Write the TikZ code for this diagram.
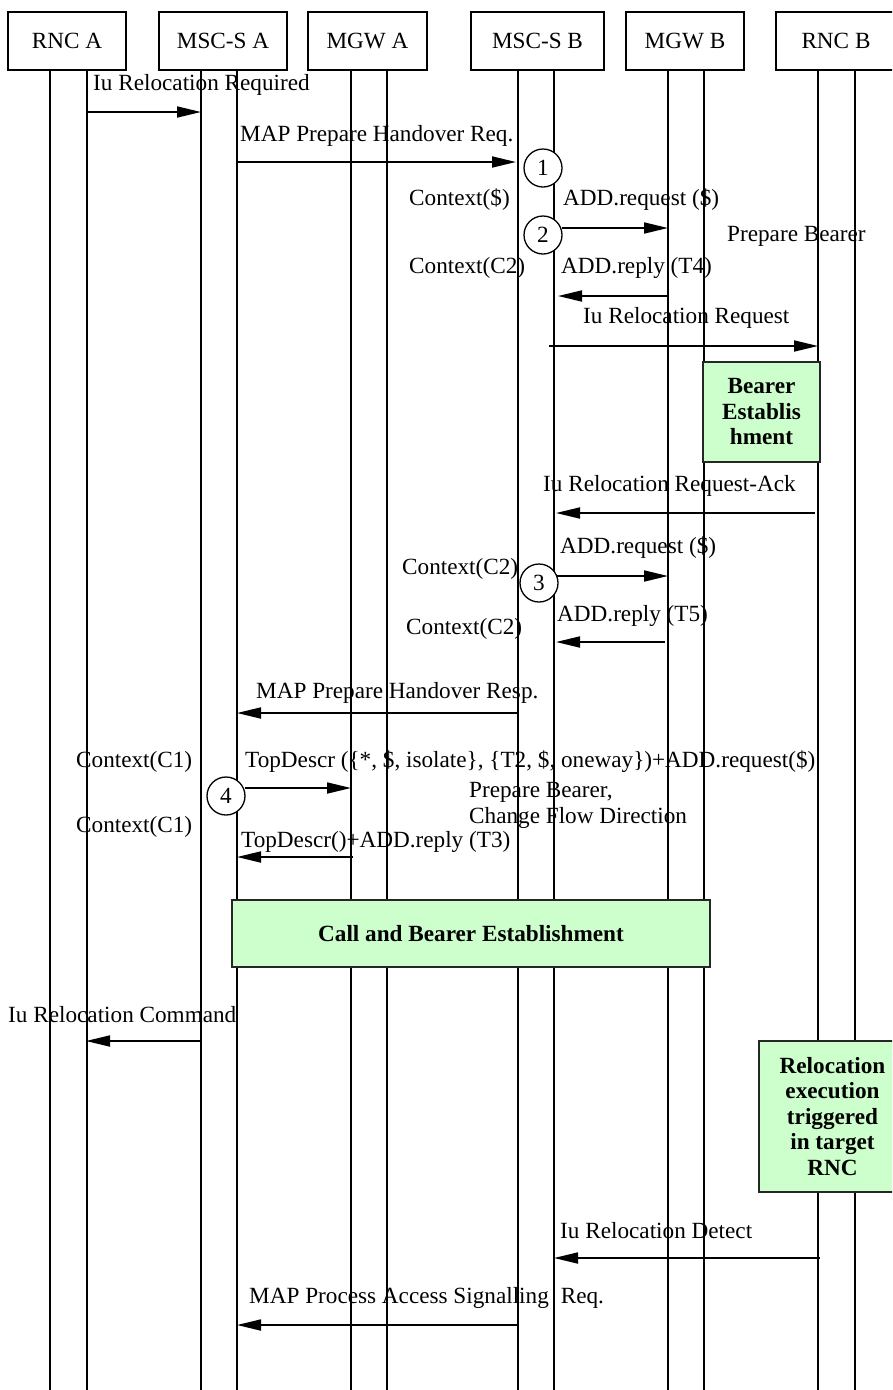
\documentclass[tikz,border=0pt]{standalone}
\usepackage{fontspec}
\setmainfont{Liberation Serif}
\usetikzlibrary{arrows.meta}
\definecolor{lgreen}{HTML}{CCFFCC}
\begin{document}
\begin{tikzpicture}[x=1pt,y=-1pt,
  every node/.style={font=\fontsize{23.2}{25.5}\selectfont, inner sep=0pt},
  entity/.style={draw, line width=1.5pt, minimum height=58pt},
  life/.style={line width=1.3pt},
  msg/.style={line width=1.8pt, -{Triangle[length=24pt,width=11pt]}},
  lbl/.style={anchor=west},
  numc/.style={circle, draw, fill=white, line width=1.3pt, minimum size=38pt},
  greenbox/.style={draw=black!85, line width=1.5pt, fill=lgreen, align=center,
    font=\fontsize{23.2}{25.5}\selectfont\bfseries}
]
\useasboundingbox (0,0) rectangle (892,1390);
\clip (0,0) rectangle (892,1390);

% entities
\node[entity, minimum width=118pt] (rncA) at (67,41) {RNC A};
\node[entity, minimum width=128pt] (mscA) at (223,41) {MSC-S A};
\node[entity, minimum width=119pt] (mgwA) at (367.5,41) {MGW A};
\node[entity, minimum width=133pt] (mscB) at (537.5,41) {MSC-S B};
\node[entity, minimum width=118pt] (mgwB) at (685,41) {MGW B};
\node[entity, minimum width=120pt] (rncB) at (836,41) {RNC B};

% lifelines
\foreach \n/\x in {rAa/50, rAb/87, sAa/201, sAb/237, gAa/351, gAb/387,
                   sBa/518, sBb/554, gBa/668, gBb/704, rBa/818, rBb/855} {
  \coordinate (\n t) at (\x,70);
  \coordinate (\n b) at (\x,1390);
  \draw[life] (\n t) -- (\n b);
}

% 1 Iu Relocation Required
\node[lbl] (t1) at (93,85) {Iu Relocation Required};
\coordinate (m1a) at (87,112); \coordinate (m1b) at (201,112);
\draw[msg] (m1a) -- (m1b);

% 2 MAP Prepare Handover Req.
\node[lbl] (t2) at (240,136) {MAP Prepare Handover Req.};
\coordinate (m2a) at (237,162); \coordinate (m2b) at (516,162);
\draw[msg] (m2a) -- (m2b);
\node[numc] (c1) at (543,168) {1};

% 3 ADD.request
\node[lbl] (t3a) at (409,200) {Context(\$)};
\node[lbl] (t3b) at (563,200) {ADD.request (\$)};
\node[numc] (c2) at (543,235) {2};
\coordinate (m3a) at (562,228); \coordinate (m3b) at (668,228);
\draw[msg] (m3a) -- (m3b);
\node[lbl] (t3c) at (727,236) {Prepare Bearer};

% 4 ADD.reply (T4)
\node[lbl] (t4a) at (409,268) {Context(C2)};
\node[lbl] (t4b) at (561,268) {ADD.reply (T4)};
\coordinate (m4a) at (668,296); \coordinate (m4b) at (558,296);
\draw[msg] (m4a) -- (m4b);

% 5 Iu Relocation Request
\node[lbl] (t5) at (583,318) {Iu Relocation Request};
\coordinate (m5a) at (549,346); \coordinate (m5b) at (818,346);
\draw[msg] (m5a) -- (m5b);

% Bearer establishment
\node[greenbox, minimum width=117pt, minimum height=100pt] (be) at (761.5,412) {Bearer\\Establis\\hment};

% 6 Iu Relocation Request-Ack
\node[lbl] (t6) at (543,486) {Iu Relocation Request-Ack};
\coordinate (m6a) at (815,513); \coordinate (m6b) at (556,513);
\draw[msg] (m6a) -- (m6b);

% 7 ADD.request (3)
\node[lbl] (t7a) at (560,548) {ADD.request (\$)};
\node[lbl] (t7b) at (402,569) {Context(C2)};
\node[numc] (c3) at (539,583) {3};
\coordinate (m7a) at (557,576); \coordinate (m7b) at (668,576);
\draw[msg] (m7a) -- (m7b);

% 8 ADD.reply (T5)
\node[lbl] (t8a) at (557,616) {ADD.reply (T5)};
\node[lbl] (t8b) at (406,629) {Context(C2)};
\coordinate (m8a) at (665,642); \coordinate (m8b) at (556,642);
\draw[msg] (m8a) -- (m8b);

% 9 MAP Prepare Handover Resp.
\node[lbl] (t9) at (256,693) {MAP Prepare Handover Resp.};
\coordinate (m9a) at (518,713); \coordinate (m9b) at (237,713);
\draw[msg] (m9a) -- (m9b);

% 10 TopDescr request
\node[lbl] (t10a) at (76,762) {Context(C1)};
\node[lbl] (t10b) at (245,762) {TopDescr (\{*, \$, isolate\}, \{T2, \$, oneway\})+ADD.request(\$)};
\node[numc] (c4) at (226,796) {4};
\coordinate (m10a) at (245,788); \coordinate (m10b) at (351,788);
\draw[msg] (m10a) -- (m10b);
\node[lbl, align=left] (t10c) at (469,805.5) {Prepare Bearer,\\Change Flow Direction};

% 11 TopDescr reply
\node[lbl] (t11a) at (76,827) {Context(C1)};
\node[lbl] (t11b) at (241,842) {TopDescr()+ADD.reply (T3)};
\coordinate (m11a) at (353,857); \coordinate (m11b) at (237,857);
\draw[msg] (m11a) -- (m11b);

% Call and Bearer Establishment
\node[greenbox, minimum width=478pt, minimum height=67pt] (cbe) at (471,933.5) {Call and Bearer Establishment};

% 12 Iu Relocation Command
\node[lbl] (t12) at (8,1015) {Iu Relocation Command};
\coordinate (m12a) at (201,1041); \coordinate (m12b) at (86,1041);
\draw[msg] (m12a) -- (m12b);

% Relocation execution
\node[greenbox, minimum width=147pt, minimum height=151pt] (rex) at (832.5,1116.5)
  {Relocation\\execution\\triggered\\in target\\RNC};

% 13 Iu Relocation Detect
\node[lbl] (t13) at (560,1231) {Iu Relocation Detect};
\coordinate (m13a) at (820,1258); \coordinate (m13b) at (554,1258);
\draw[msg] (m13a) -- (m13b);

% 14 MAP Process Access Signalling Req.
\node[lbl] (t14) at (249,1298) {MAP Process Access Signalling\hspace{12pt}Req.};
\coordinate (m14a) at (518,1325); \coordinate (m14b) at (237,1325);
\draw[msg] (m14a) -- (m14b);
\end{tikzpicture}
\end{document}
